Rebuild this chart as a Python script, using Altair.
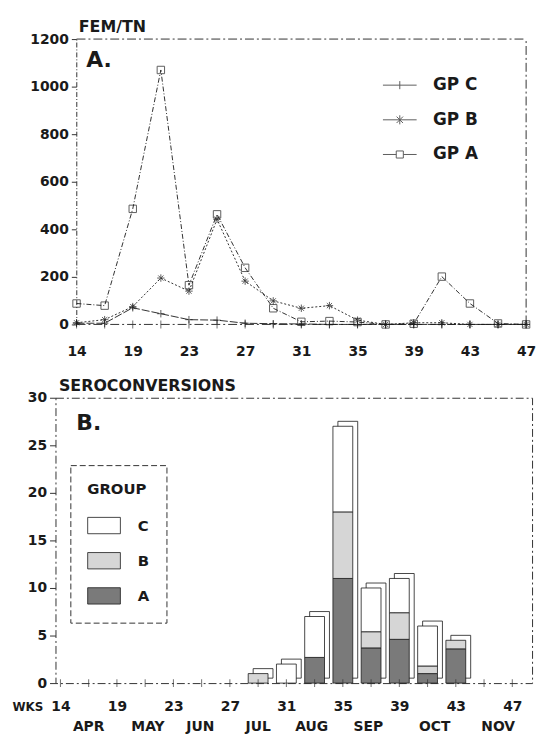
import altair as alt
import pandas as pd

FONT = "DejaVu Sans"
INK = "#1a1a1a"

# ---------------- data ----------------
weeks = [15, 17, 19, 21, 23, 25, 27, 29, 31, 33, 35, 37, 39, 41, 43, 45, 47]
week_tick_values = [15, 19, 23, 27, 31, 35, 39, 43, 47]
week_tick_labels = ["14", "19", "23", "27", "31", "35", "39", "43", "47"]

gp_a = [88, 79, 486, 1070, 165, 463, 238, 68, 11, 14, 10, 0, 3, 201, 88, 4, 0]
gp_b = [7, 20, 75, 195, 140, 442, 182, 99, 68, 79, 18, 0, 7, 7, 0, 0, 0]
gp_c = [5, 5, 70, 45, 20, 18, 5, 3, 2, 0, 0, 0, 0, 0, 0, 0, 0]
top_groups = ["GP C", "GP B", "GP A"]
top_y_ticks = [0, 200, 400, 600, 800, 1000, 1200]

bar_weeks = [29, 31, 33, 35, 37, 39, 41, 43]
sero_a = [0, 0, 2.7, 11, 3.7, 4.6, 1.0, 3.6]
sero_b = [1, 0, 0, 7, 1.7, 2.8, 0.8, 0.9]
sero_c = [0, 2, 4.3, 9, 4.6, 3.6, 4.2, 0]
bot_groups = ["C", "B", "A"]
bot_y_ticks = [0, 5, 10, 15, 20, 25, 30]

months = ["APR", "MAY", "JUN", "JUL", "AUG", "SEP", "OCT", "NOV"]
month_pos = [17, 21.2, 24.9, 29, 32.8, 36.8, 41.5, 46]

# ---------------- tables ----------------
rows = []
for name, vals in (("GP A", gp_a), ("GP B", gp_b), ("GP C", gp_c)):
    for w, v in zip(weeks, vals):
        rows.append({"week": w, "value": v, "group": name})
top_df = pd.DataFrame(rows)

brows = []
for name, order, vals in (("A", 0, sero_a), ("B", 1, sero_b), ("C", 2, sero_c)):
    for w, v in zip(bar_weeks, vals):
        brows.append({"week": w, "value": v, "group": name, "order": order})
bar_df = pd.DataFrame(brows)
tot_df = pd.DataFrame({"week": bar_weeks,
                       "total": [a + b + c for a, b, c in zip(sero_a, sero_b, sero_c)]})
week_df = pd.DataFrame({"week": weeks})
month_df = pd.DataFrame({"month": months, "pos": month_pos})
one = pd.DataFrame({"k": [0]})

label_expr = "[%s][indexof([%s], datum.value)]" % (
    ",".join("'%s'" % s for s in week_tick_labels),
    ",".join(str(v) for v in week_tick_values))

# ---------------- top panel ----------------
sq = "M-1,-1H1V1H-1Z"
ast = "M-1,0H1M0,-1V1M-0.7,-0.7L0.7,0.7M-0.7,0.7L0.7,-0.7"
plus = "M-1,0H1M0,-1V1"
leg_a = "M-1,0H-0.21M0.21,0H1M-0.21,-0.21H0.21V0.21H-0.21Z"
leg_b = "M-1,0H1M-0.19,-0.19L0.19,0.19M-0.19,0.19L0.19,-0.19M0,-0.27V0.27"
leg_c = "M-1,0H1M0,-0.24V0.24"

x_top = alt.X("week:Q",
              scale=alt.Scale(domain=[13.5, 47], nice=False, zero=False),
              axis=alt.Axis(values=week_tick_values, labelExpr=label_expr,
                            domain=False, ticks=False, labelPadding=20,
                            labelFlush=False, labelOverlap=False, title=None))
y_top = alt.Y("value:Q",
              scale=alt.Scale(domain=[0, 1200], nice=False),
              axis=alt.Axis(values=top_y_ticks, format="d", offset=-21, tickSize=5,
                            labelPadding=3, domainDash=[5, 2, 1, 2],
                            title="FEM/TN", titleAngle=0, titleX=2, titleY=-21,
                            titleAlign="left", titleBaseline="top",
                            titleFontSize=16, titleFontWeight="bold"))

top_border = alt.Chart(one).mark_rule(color="#333", strokeWidth=1, strokeDash=[9, 3, 2, 3]).encode(
    x=alt.datum(weeks[0]), x2=alt.datum(weeks[-1]), y=alt.datum(top_y_ticks[-1]))
right_border = alt.Chart(one).mark_rule(color="#333", strokeWidth=1, strokeDash=[9, 3, 2, 3]).encode(
    x=alt.datum(weeks[-1]), y=alt.datum(0), y2=alt.datum(top_y_ticks[-1]))
zero_top = alt.Chart(one).mark_rule(color="#333", strokeWidth=1, strokeDash=[9, 3, 2, 3]).encode(
    x=alt.datum(weeks[0]), x2=alt.datum(weeks[-1]), y=alt.datum(0))
ticks_top = alt.Chart(week_df).mark_tick(orient="vertical", size=8, thickness=1, color="#333").encode(
    x="week:Q", y=alt.datum(0))

lines = alt.Chart(top_df).mark_line(color=INK, strokeWidth=0.9).encode(
    x=x_top, y=y_top,
    strokeDash=alt.StrokeDash("group:N",
                              scale=alt.Scale(domain=["GP A", "GP B", "GP C"],
                                              range=[[5, 2, 1, 2], [2, 2], [8, 2]]),
                              legend=None))
points = alt.Chart(top_df).mark_point(filled=False, color=INK, strokeWidth=1, size=56).encode(
    x="week:Q", y="value:Q",
    shape=alt.Shape("group:N",
                    scale=alt.Scale(domain=["GP A", "GP B", "GP C"], range=[sq, ast, plus]),
                    legend=None))
legend_layer = alt.Chart(top_df).transform_filter("datum.value < -1").mark_point(
    filled=False, color=INK).encode(
    x="week:Q", y="value:Q",
    shape=alt.Shape("group:N",
                    scale=alt.Scale(domain=top_groups, range=[leg_c, leg_b, leg_a]),
                    legend=alt.Legend(title=None, orient="none", legendX=330, legendY=29,
                                      symbolSize=1156, symbolStrokeColor=INK,
                                      symbolFillColor="transparent", symbolStrokeWidth=1,
                                      labelFontSize=17, labelFontWeight="bold",
                                      labelOffset=16, rowPadding=9, padding=0,
                                      labelFont=FONT, labelColor=INK)))
a_text = alt.Chart(one).mark_text(text="A.", font=FONT, fontSize=22, fontWeight="bold",
                                  align="left", baseline="top", color=INK).encode(
    x=alt.value(31), y=alt.value(11))

top = alt.layer(top_border, right_border, zero_top, ticks_top, lines, points,
                legend_layer, a_text).resolve_scale(shape="independent").properties(
    width=475, height=288)

# ---------------- bottom panel ----------------
x_bot = alt.X("week:Q",
              scale=alt.Scale(domain=[14.65, 48.4], nice=False, zero=False, padding=0),
              axis=alt.Axis(values=week_tick_values, labelExpr=label_expr,
                            domain=False, ticks=False, labelPadding=17,
                            labelFlush=False, labelOverlap=False,
                            title="WKS", titleX=-44, titleY=24, titleAlign="left",
                            titleBaseline="middle", titleFontSize=12,
                            titleFontWeight="bold"))
y_bot = alt.Y("value:Q", stack="zero",
              scale=alt.Scale(domain=[0, 30], nice=False),
              axis=alt.Axis(values=bot_y_ticks, domain=False, tickSize=6,
                            labelPadding=3, title="SEROCONVERSIONS", titleAngle=0,
                            titleX=3, titleY=-20, titleAlign="left",
                            titleBaseline="top", titleFontSize=16,
                            titleFontWeight="bold"))

back = alt.Chart(tot_df).mark_bar(orient="vertical", size=20, xOffset=5, yOffset=-5,
                                  fill="white", stroke=INK, strokeWidth=0.8).encode(
    x="week:Q", y="total:Q")
front = alt.Chart(bar_df).transform_filter("datum.value > 0").mark_bar(
    orient="vertical", size=20, stroke=INK, strokeWidth=0.8).encode(
    x=x_bot, y=y_bot,
    color=alt.Color("group:N",
                    scale=alt.Scale(domain=bot_groups,
                                    range=["#ffffff", "#d6d6d6", "#7a7a7a"]),
                    legend=alt.Legend(title="GROUP", orient="none", legendX=15, legendY=430,
                                      padding=17, strokeColor="#333",
                                      symbolType="M-1,-0.5H1V0.5H-1Z", symbolSize=1089,
                                      symbolStrokeColor=INK, symbolStrokeWidth=0.8,
                                      labelExpr="datum.label + '\u2003\u2003'",
                                      labelFontSize=15, labelFontWeight="bold",
                                      titleFontSize=15, titleFontWeight="bold",
                                      titlePadding=12, rowPadding=8.5, labelOffset=17,
                                      labelFont=FONT, titleFont=FONT,
                                      labelColor=INK, titleColor=INK)),
    order=alt.Order("order:Q"))
ticks_bot = alt.Chart(week_df).mark_tick(orient="vertical", size=8, thickness=1, color="#333").encode(
    x="week:Q", y=alt.datum(0))
month_text = alt.Chart(month_df).mark_text(font=FONT, fontSize=14, fontWeight="bold",
                                           baseline="middle", color=INK).encode(
    x="pos:Q", y=alt.value(332), text="month:N")
b_text = alt.Chart(one).mark_text(text="B.", font=FONT, fontSize=22, fontWeight="bold",
                                  align="left", baseline="top", color=INK).encode(
    x=alt.value(21), y=alt.value(16))

bottom = alt.layer(back, front, ticks_bot, month_text, b_text).properties(
    width=481, height=288,
    view=alt.ViewBackground(stroke="#333", strokeWidth=1, strokeDash=[8, 3, 2, 3]))

chart = alt.vconcat(top, bottom, spacing=18).properties(
    padding={"left": 11, "top": 14, "right": 2, "bottom": 2},
    background="white"
).configure_view(stroke="transparent").configure_axis(
    grid=False, labelFont=FONT, titleFont=FONT, labelFontSize=14,
    labelFontWeight="bold", labelColor=INK, titleColor=INK,
    tickColor="#333", domainColor="#333"
).configure_legend(strokeDash=[6, 3])

chart.save("out.html", embed_options={"renderer": "svg", "actions": False})
